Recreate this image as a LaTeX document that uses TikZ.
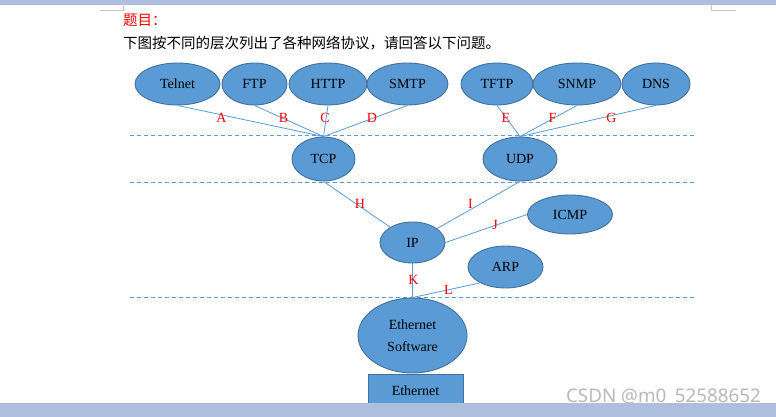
\documentclass[tikz,border=0pt]{standalone}
\usepackage{fontspec}
\setmainfont{Liberation Serif}
\newfontfamily\cjk{Noto Sans CJK SC}
\newfontfamily\wmfont{Noto Sans}
\usetikzlibrary{shapes.geometric}
\definecolor{protofill}{HTML}{5B9BD5}
\definecolor{protoedge}{HTML}{41719C}
\definecolor{pagebar}{HTML}{ADBFDC}

\begin{document}
\begin{tikzpicture}[x=1pt,y=-1pt,
    proto/.style 2 args={ellipse,draw=protoedge,fill=protofill,line width=0.9pt,inner sep=0pt,
      minimum width=#1pt,minimum height=#2pt,font=\fontsize{14}{22}\selectfont},
    link/.style={draw=protofill,line width=0.8pt},
    layer/.style={draw=protofill,line width=0.8pt,dash pattern=on 4pt off 3pt},
    lbl/.style={text=red,inner sep=0pt,font=\fontsize{14}{14}\selectfont}]
  \useasboundingbox (0,0) rectangle (776,417);
  \fill[white] (0,0) rectangle (776,417);
  % page frame
  \fill[pagebar] (0,0) rectangle (776,5);
  \draw[gray!45,line width=0.8pt] (100,10) -- (123,10) -- (123,5);
  \draw[gray!45,line width=0.8pt] (711,5) -- (711,10) -- (736,10);
  \node[anchor=west,inner sep=0pt,text=red,font=\cjk\fontsize{14.5}{15}\selectfont] (title) at (123,20) {题目：};
  \node[anchor=west,inner sep=0pt,font=\cjk\fontsize{14.5}{15}\selectfont] (question) at (123,43)
    {下图按不同的层次列出了各种网络协议，请回答以下问题。};
  % layers
  \draw[layer] (130,135) -- (695,135);
  \draw[layer] (130,182) -- (695,182);
  \draw[layer] (130,297) -- (695,297);
  % application protocols
  \node[proto={85}{42}] (telnet) at (177.5,84) {Telnet};
  \node[proto={65}{42}] (ftp) at (254.5,84) {FTP};
  \node[proto={78}{42}] (http) at (328,84) {HTTP};
  \node[proto={81}{42}] (smtp) at (407.5,84) {SMTP};
  \node[proto={72}{42}] (tftp) at (497,84) {TFTP};
  \node[proto={88}{42}] (snmp) at (577,84) {SNMP};
  \node[proto={68}{42}] (dns) at (656,84) {DNS};
  % transport
  \node[proto={63}{44}] (tcp) at (323.5,159) {TCP};
  \node[proto={74}{44}] (udp) at (520,159) {UDP};
  % network
  \node[proto={65}{41}] (ip) at (412.5,242.5) {IP};
  \node[proto={85}{39}] (icmp) at (570,214.5) {ICMP};
  \node[proto={75}{42}] (arp) at (505.5,267) {ARP};
  % link
  \node[proto={109}{75},align=center] (ethsw) at (412.5,335.5) {Ethernet\\Software};
  \node[draw=protoedge,fill=protofill,line width=0.9pt,minimum width=95pt,minimum height=34pt,
    inner sep=0pt,font=\fontsize{14}{15}\selectfont] (eth) at (415.5,391) {Ethernet};
  % connectors
  \draw[link] (telnet.south) -- (tcp.north);
  \draw[link] (ftp.south) -- (tcp.north);
  \draw[link] (http.south) -- (tcp.north);
  \draw[link] (smtp.south) -- (tcp.north);
  \draw[link] (tftp.south) -- (udp.north);
  \draw[link] (snmp.south) -- (udp.north);
  \draw[link] (dns.south) -- (udp.north);
  \draw[link] (tcp.south) -- (ip);
  \draw[link] (udp.south) -- (ip);
  \draw[link] (icmp.west) -- (ip.east);
  \draw[link] (ip.south) -- (ethsw.north);
  \draw[link] (arp.212) -- (ethsw.north);
  % labels
  \node[lbl] (la) at (221.5,117.5) {A};
  \node[lbl] (lb) at (283.5,117.5) {B};
  \node[lbl] (lc) at (325,117.5) {C};
  \node[lbl] (ld) at (372,117.5) {D};
  \node[lbl] (le) at (506,117.5) {E};
  \node[lbl] (lf) at (552.5,117.5) {F};
  \node[lbl] (lg) at (611.5,117.5) {G};
  \node[lbl] (lh) at (360,204) {H};
  \node[lbl] (li) at (470.5,204) {I};
  \node[lbl] (lj) at (495,225) {J};
  \node[lbl] (lk) at (413.5,280) {K};
  \node[lbl] (ll) at (448.5,290) {L};
  % bottom bar and mark
  \fill[pagebar] (0,403) rectangle (776,417);
  \node[anchor=east,inner sep=0pt,text=gray!55,font=\wmfont\fontsize{18.8}{19}\selectfont] (mark) at (761,397)
    {CSDN @m0\_52588652};
\end{tikzpicture}
\end{document}
